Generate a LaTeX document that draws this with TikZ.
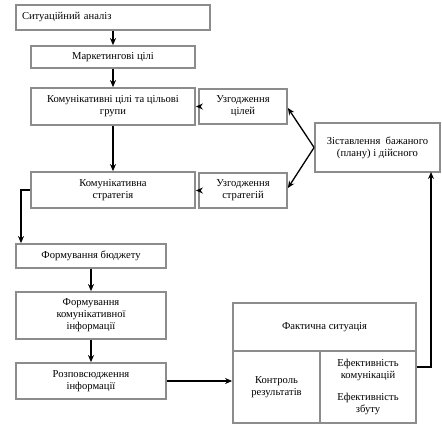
\documentclass[tikz,border=0pt]{standalone}
\usepackage{fontspec}
\setmainfont{Liberation Serif}
\usetikzlibrary{arrows.meta,calc}
\begin{document}
\begin{tikzpicture}[x=1pt,y=-1pt,
  box/.style={draw=black!45,line width=1.8pt,rectangle,inner sep=1pt,align=center,
    font=\fontsize{10.6}{12}\selectfont},
  arr/.style={draw=black,line width=1.3pt,-{Stealth[length=7pt,width=6pt]}},
  ln/.style={draw=black,line width=1.3pt}]
\useasboundingbox (0,0) rectangle (442,429);
\node[box,minimum width=194pt,minimum height=25pt,text width=182pt,align=left] (b1) at (113,17.5) {Ситуаційний аналіз};
\node[box,minimum width=164pt,minimum height=22pt] (b2) at (113,57) {Маркетингові цілі};
\node[box,minimum width=164pt,minimum height=37pt] (b3) at (113,106.5) {Комунікативні цілі та цільові\\групи};
\node[box,minimum width=164pt,minimum height=36pt] (b4) at (113,190) {Комунікативна\\стратегія};
\node[box,minimum width=88pt,minimum height=35pt] (u1) at (243,106.5) {Узгодження\\цілей};
\node[box,minimum width=88pt,minimum height=35pt] (u2) at (243,190.5) {Узгодження\\стратегій};
\node[box,minimum width=125pt,minimum height=49pt] (z) at (377.5,147.5) {Зіставлення\ \ бажаного\\(плану) і дійсного};
\node[box,minimum width=150pt,minimum height=24pt] (f1) at (91,256) {Формування бюджету};
\node[box,minimum width=150pt,minimum height=47pt] (f2) at (91,315.5) {Формування\\комунікативної\\інформації};
\node[box,minimum width=150pt,minimum height=36pt] (f3) at (91,381) {Розповсюдження\\інформації};
\node[box,minimum width=183pt,minimum height=48pt] (fact) at (324.5,327) {Фактична ситуація};
\node[box,minimum width=87pt,minimum height=72pt] (ktr) at (276.5,387) {Контроль\\результатів};
\node[box,minimum width=96pt,minimum height=72pt] (eff) at (368,387) {Ефективність\\комунікацій\\[10pt]Ефективність\\збуту};
\coordinate (zin) at (431,172);
\coordinate (bend) at (21,190);
\draw[arr] (b1.south) -- (b2.north);
\draw[arr] (b2.south) -- (b3.north);
\draw[arr] (b3.south) -- (b4.north);
\draw[arr] (u1.west) -- (b3.east |- u1.west);
\draw[arr] (u2.west) -- (b4.east |- u2.west);
\draw[arr] (z.west) -- ($(u1.east)+(0,1.5)$);
\draw[arr] (z.west) -- ($(u2.east)+(0,-2.5)$);
\draw[arr] (b4.west) -- (bend) -- (bend |- f1.north);
\draw[arr] (f1.south) -- (f2.north);
\draw[arr] (f2.south) -- (f3.north);
\draw[arr] (f3.east) -- (ktr.west |- f3.east);
\draw[arr] ($(eff.north east)+(0,17)$) -| (zin);
\end{tikzpicture}
\end{document}
